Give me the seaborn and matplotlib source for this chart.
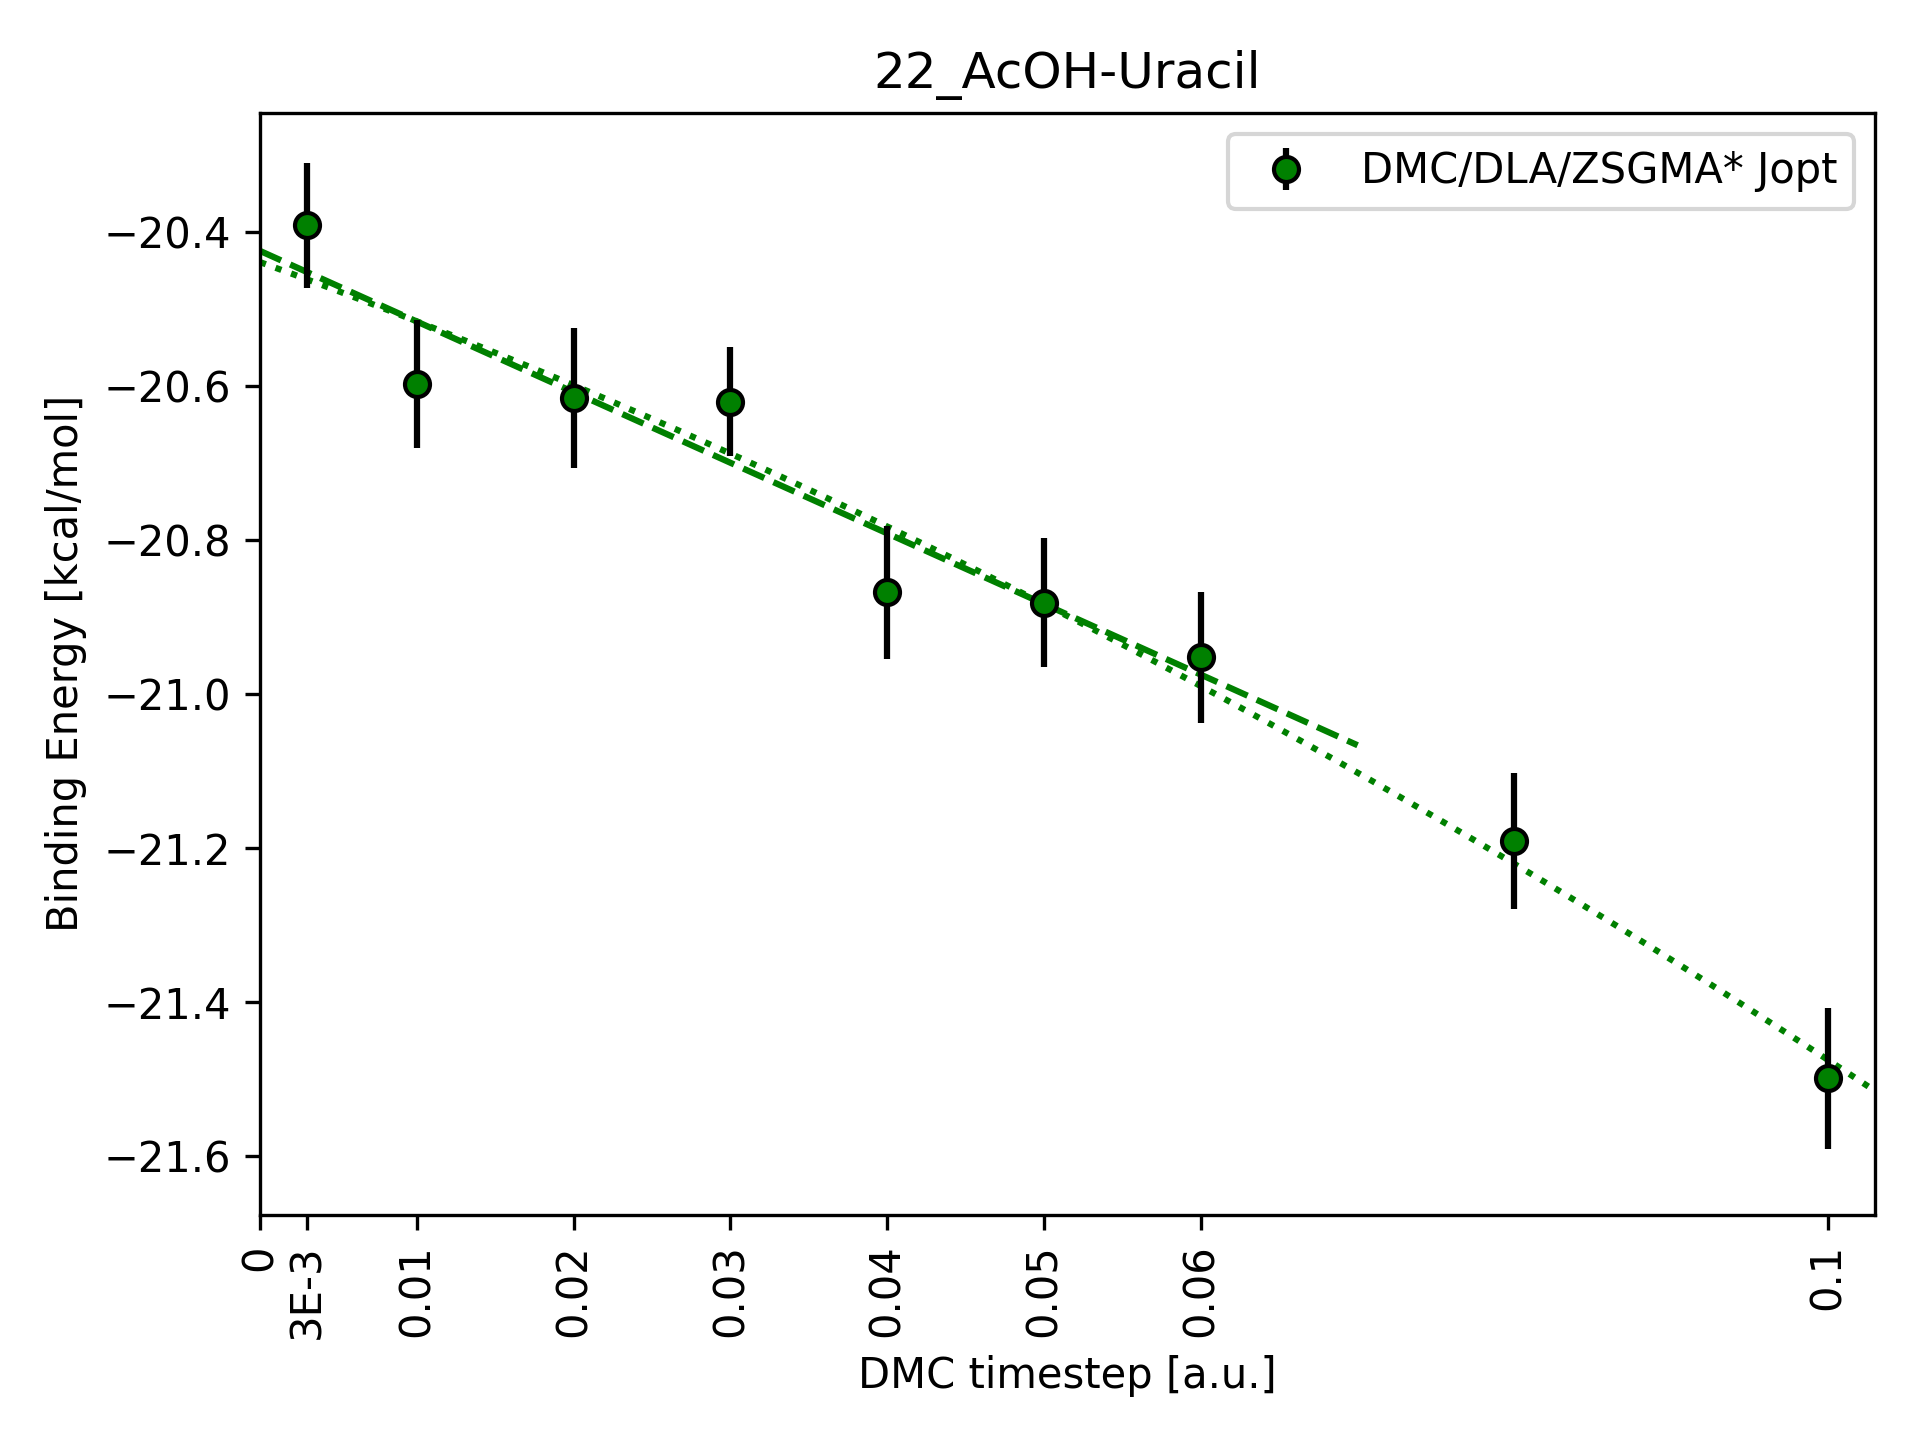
import numpy as np
import pandas as pd
import matplotlib
matplotlib.use('Agg')
import matplotlib.pyplot as plt
import seaborn as sns

# data
timesteps = [0.003, 0.01, 0.02, 0.03, 0.04, 0.05, 0.06, 0.08, 0.1]
energies = [-20.391, -20.597, -20.615, -20.620, -20.868, -20.881, -20.952, -21.191, -21.499]
errors = [0.081, 0.083, 0.091, 0.071, 0.086, 0.084, 0.085, 0.088, 0.092]
tick_pos = [0, 0.003, 0.01, 0.02, 0.03, 0.04, 0.05, 0.06, 0.1]
tick_labels = ['0', '3E-3', '0.01', '0.02', '0.03', '0.04', '0.05', '0.06', '0.1']
label = 'DMC/DLA/ZSGMA* Jopt'
title = '22_AcOH-Uracil'

df = pd.DataFrame({'dt': timesteps, 'E': energies, 'err': errors})

# linear fit on the small timesteps, quadratic fit on everything
small = df[df.dt <= 0.06]
lin = np.polyfit(small.dt, small.E, 1)
quad = np.polyfit(df.dt, df.E, 2)
x_lin = np.linspace(0, 0.07, 50)
x_quad = np.linspace(0, 0.11, 200)
fit_lin = pd.DataFrame({'dt': x_lin, 'E': np.polyval(lin, x_lin)})
fit_quad = pd.DataFrame({'dt': x_quad, 'E': np.polyval(quad, x_quad)})

fig, ax = plt.subplots(figsize=(6.4, 4.8), dpi=300)

ax.errorbar(df.dt, df.E, yerr=df.err, fmt='o', color='green', mec='black',
            ecolor='black', elinewidth=1.5, label=label, zorder=3)
sns.lineplot(data=fit_lin, x='dt', y='E', ax=ax, color='green', linestyle='--',
             linewidth=1.5, legend=False)
sns.lineplot(data=fit_quad, x='dt', y='E', ax=ax, color='green', linestyle=':',
             linewidth=1.5, legend=False)

ax.set_xlim(0, 0.103)
ax.set_xticks(tick_pos)
ax.set_xticklabels(tick_labels, rotation=90)
ax.set_title(title)
ax.set_xlabel('DMC timestep [a.u.]')
ax.set_ylabel('Binding Energy [kcal/mol]')
ax.legend(loc='upper right')

fig.subplots_adjust(left=0.1354, right=0.9766, top=0.9217, bottom=0.1563)
fig.savefig('out.png', dpi=300)
